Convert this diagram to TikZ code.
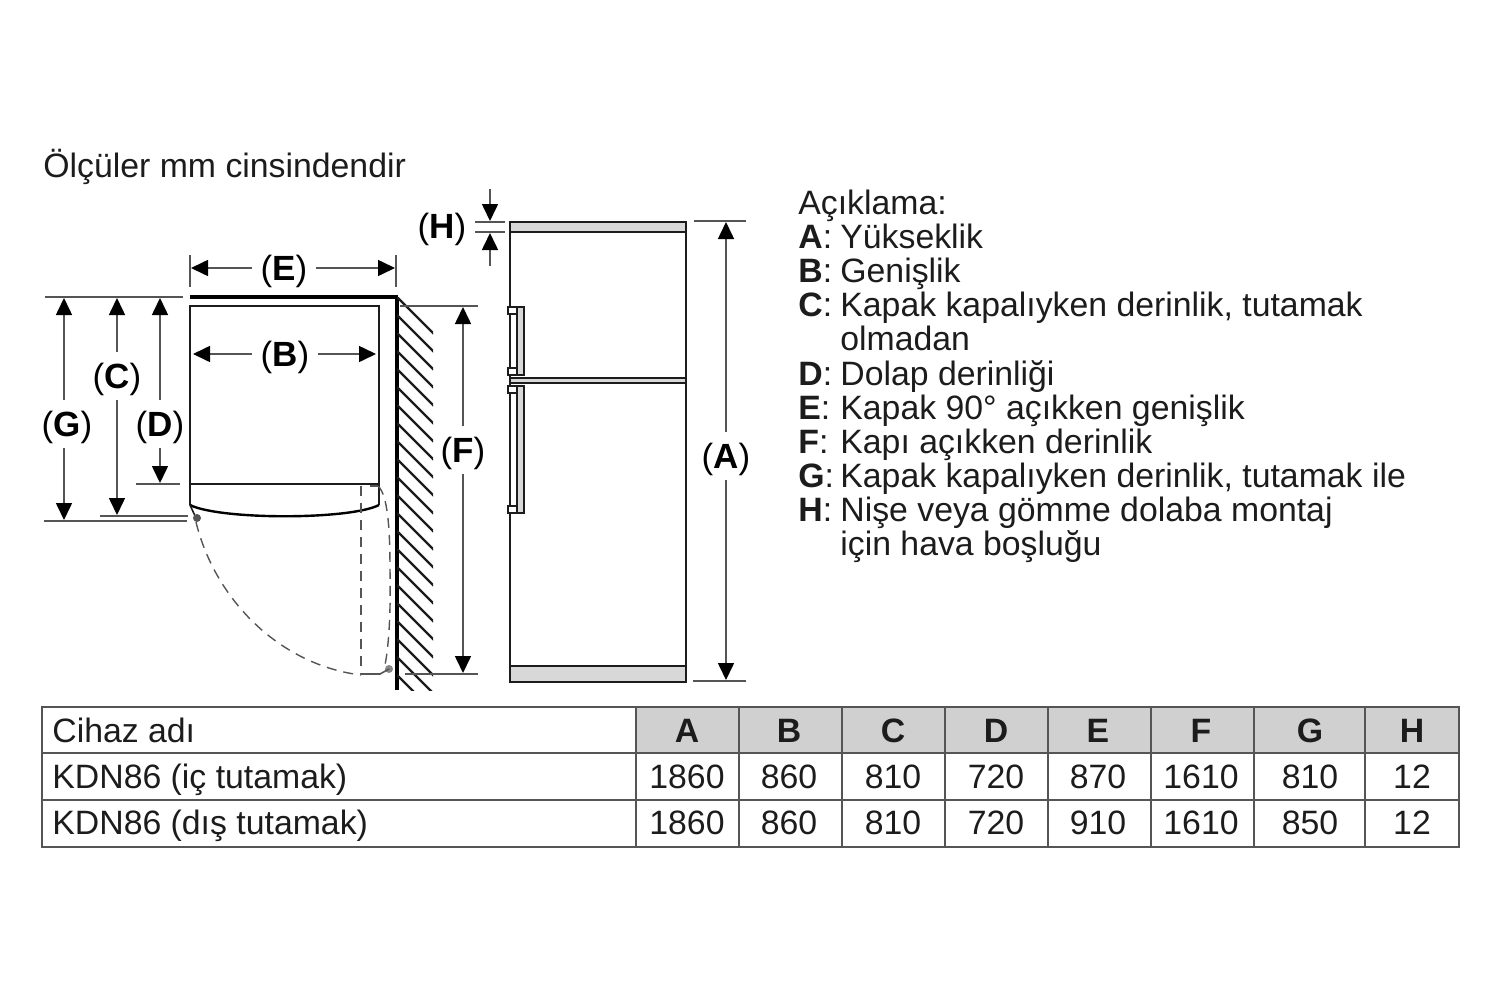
\documentclass[tikz,border=0pt]{standalone}
\usepackage{fontspec}
\setmainfont{Liberation Sans}
\usetikzlibrary{arrows.meta}
\definecolor{inkc}{HTML}{1C1C1C}
\definecolor{dimc}{HTML}{555555}
\definecolor{bandc}{HTML}{D8D8D8}
\definecolor{headc}{HTML}{D0D0D0}
\tikzset{
  dimline/.style={draw=dimc,line width=0.8pt,-{Triangle[color=black,width=8pt,length=8.5pt]}},
  extline/.style={draw=dimc,line width=0.8pt},
  bodyline/.style={draw=inkc,line width=1pt},
  dashline/.style={draw=dimc,line width=0.7pt,dash pattern=on 5pt off 3.5pt},
  dimlabel/.style={font=\fontsize{17.5}{20}\selectfont,text=black,inner xsep=4pt,inner ysep=3.5pt,text height=14.5pt,text depth=2.5pt},
  txt/.style={font=\fontsize{16.9}{20}\selectfont,text=inkc,inner sep=0pt,anchor=base west},
  cell/.style={font=\fontsize{16.9}{20}\selectfont,text=inkc,inner sep=0pt,anchor=base}
}
\begin{document}
\begin{tikzpicture}[x=0.5pt,y=-0.5pt]
\useasboundingbox (0,0) rectangle (1500,997);
\node[txt] (title) at (43,177) {Ölçüler mm cinsindendir};

% plan view
\draw[bodyline] (190,484) -- (190,306) -- (379,306) -- (379,505);
\draw[bodyline] (190,484) -- (379,484);
\draw[draw=black,line width=2pt] (190,297) -- (398,297);
\draw[draw=black,line width=2pt] (397,297) -- (397,690);
\draw[draw=inkc,line width=1.4pt] (190,484) -- (190,505);
\draw[draw=black,line width=1.2pt] (190,505) .. controls (220,520) and (350,520) .. (379,505);
\begin{scope}
\clip (397,297) rectangle (433,690);
\foreach \hy in {297,315,...,675}
  \draw[draw=inkc,line width=1.2pt] (397,\hy) -- ++(40,40);
\end{scope}
\draw[bodyline,line width=0.8pt] (190,505) -- (196,518);
\fill[dimc] (197,518) circle (4);
\fill[dimc!70] (389,669) circle (4);
\draw[dashline] (196,522) .. controls (215,600) and (280,665) .. (361,675);
\draw[dashline] (361,486) -- (361,674);
\draw[dashline] (378,486) .. controls (388,495) and (390,530) .. (390,570) .. controls (391,620) and (388,650) .. (385,665);
\draw[draw=dimc,line width=0.8pt] (361,674) -- (380,674) -- (389,669);
\draw[draw=dimc,line width=0.8pt] (370,486) -- (378,486);

% fridge
\filldraw[bodyline,fill=bandc] (510,222) rectangle (686,232);
\filldraw[bodyline,fill=bandc] (510,666) rectangle (686,682);
\draw[bodyline] (510,222) -- (510,682);
\draw[bodyline] (686,222) -- (686,682);
\filldraw[bodyline,line width=0.8pt,fill=bandc] (510,378) rectangle (686,383);
\foreach \ha/\hb in {307/375,386/513}{
  \filldraw[bodyline,line width=0.9pt,fill=white] (510,\ha) rectangle (517,\hb);
  \filldraw[bodyline,line width=0.9pt,fill=bandc] (517,\ha) rectangle (524,\hb);
  \filldraw[bodyline,line width=0.9pt,fill=white] (508,\ha) rectangle (517,\ha+7);
  \filldraw[bodyline,line width=0.9pt,fill=white] (508,\hb-7) rectangle (517,\hb);
}

% extension lines
\draw[extline] (190,255) -- (190,287);
\draw[extline] (396,255) -- (396,287);
\draw[extline] (45,297) -- (183,297);
\draw[extline] (44,521) -- (187,521);
\draw[extline] (100,516) -- (188,516);
\draw[extline] (136,484) -- (180,484);
\draw[extline] (400,306) -- (478,306);
\draw[extline] (405,674) -- (478,674);
\draw[extline] (475,222) -- (505,222);
\draw[extline] (475,232) -- (505,232);
\draw[extline] (694,221) -- (746,221);
\draw[extline] (693,681) -- (746,681);

% dimensions
\node[dimlabel] (labE) at (284,268) {(\textbf{E})};
\node[dimlabel] (labB) at (285,354) {(\textbf{B})};
\node[dimlabel] (labG) at (67,424) {(\textbf{G})};
\node[dimlabel] (labC) at (117,376) {(\textbf{C})};
\node[dimlabel] (labD) at (160,424) {(\textbf{D})};
\node[dimlabel] (labF) at (463,450) {(\textbf{F})};
\node[dimlabel] (labA) at (726,456) {(\textbf{A})};
\node[dimlabel] (labH) at (442,226) {(\textbf{H})};
\coordinate (endEl) at (191,268);
\coordinate (endEr) at (395,268);
\coordinate (endBl) at (193,354);
\coordinate (endBr) at (376,354);
\coordinate (endGt) at (64,298);
\coordinate (endGb) at (64,520);
\coordinate (endCt) at (117,298);
\coordinate (endCb) at (117,515);
\coordinate (endDt) at (160,298);
\coordinate (endDb) at (160,483);
\coordinate (endFt) at (463,307);
\coordinate (endFb) at (463,673);
\coordinate (endAt) at (726,222);
\coordinate (endAb) at (726,680);
\coordinate (startHt) at (490,189);
\coordinate (endHt) at (490,221);
\coordinate (startHb) at (490,266);
\coordinate (endHb) at (490,233);
\foreach \lab/\ea/\eb in {labE/endEl/endEr,labB/endBl/endBr}{
  \draw[dimline] (\lab.west) -- (\ea);
  \draw[dimline] (\lab.east) -- (\eb);
}
\foreach \lab/\ea/\eb in {labG/endGt/endGb,labC/endCt/endCb,labD/endDt/endDb,labF/endFt/endFb,labA/endAt/endAb}{
  \draw[dimline] (\lab.north -| \ea) -- (\ea);
  \draw[dimline] (\lab.south -| \eb) -- (\eb);
}
\draw[dimline] (startHt) -- (endHt);
\draw[dimline] (startHb) -- (endHb);

% legend
\node[txt] (legHead) at (798,214) {Açıklama:};
\foreach \nm/\by/\body in {A/248/Yükseklik,B/282/Genişlik,C/316/{Kapak kapalıyken derinlik, tutamak},D/385/Dolap derinliği,E/419/Kapak 90° açıkken genişlik,F/453/Kapı açıkken derinlik,G/487/{Kapak kapalıyken derinlik, tutamak ile},H/521/Nişe veya gömme dolaba montaj}{
  \node[txt] (key\nm) at (798,\by) {\textbf{\nm}:};
  \node[txt] (leg\nm) at (840,\by) {\body};
}
\node[txt] (legC2) at (840,350) {olmadan};
\node[txt] (legH2) at (840,555) {için hava boşluğu};

% table
\fill[headc] (636,707) rectangle (1459,753);
\draw[bodyline,draw=dimc] (42,707) rectangle (1459,847);
\draw[bodyline,draw=dimc] (42,753) -- (1459,753);
\draw[bodyline,draw=dimc] (42,800) -- (1459,800);
\foreach \cx in {636,739,842,945,1048,1151,1254,1365}
  \draw[bodyline,draw=dimc] (\cx,707) -- (\cx,847);
\node[txt] (rowHead) at (52,742) {Cihaz adı};
\node[txt] (rowIc) at (52,788) {KDN86 (iç tutamak)};
\node[txt] (rowDis) at (52,834) {KDN86 (dış tutamak)};
\foreach \nm/\cx/\va/\vb in {A/687/1860/1860,B/789/860/860,C/893/810/810,D/996/720/720,E/1098/870/910,F/1201/1610/1610,G/1310/810/850,H/1412/12/12}{
  \node[cell] (head\nm) at (\cx,742) {\textbf{\nm}};
  \node[cell] (ic\nm) at (\cx,788) {\va};
  \node[cell] (dis\nm) at (\cx,834) {\vb};
}
\end{tikzpicture}
\end{document}
